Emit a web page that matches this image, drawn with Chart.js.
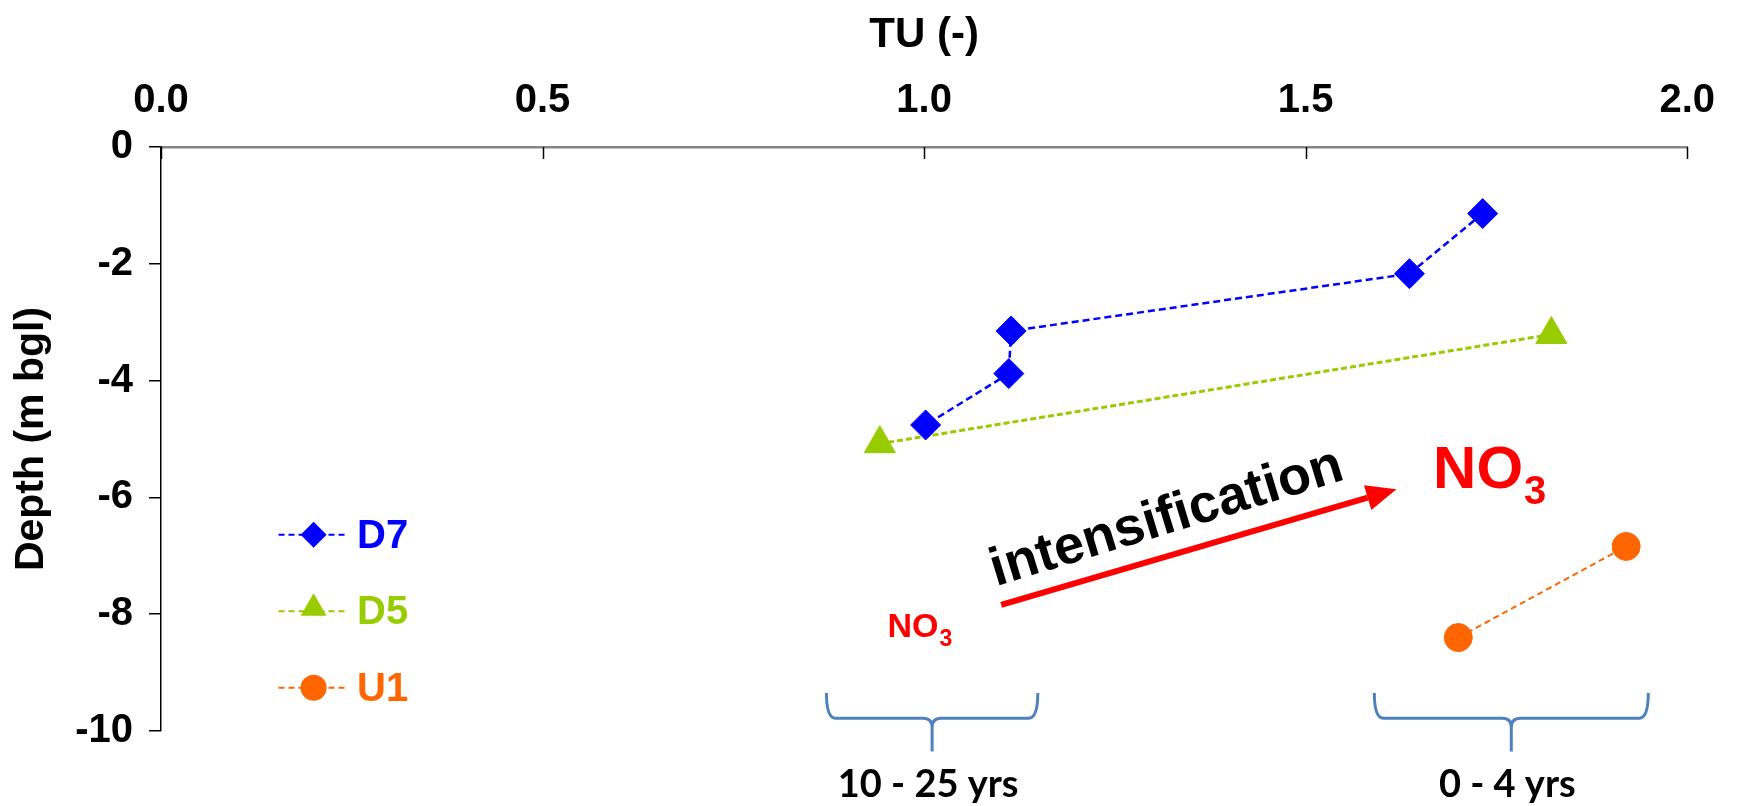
<!DOCTYPE html>
<html>
<head>
<meta charset="utf-8">
<title>TU vs depth</title>
<script src="https://cdn.jsdelivr.net/npm/chart.js@4.4.1/dist/chart.umd.min.js"></script>
<style>
  html, body { margin: 0; padding: 0; background: #fff; }
  #wrap { position: relative; width: 1737px; height: 806px; }
</style>
</head>
<body>
<div id="wrap"><canvas id="chart"></canvas></div>
<script>
// tritium units against sampling depth for three wells
const seriesNames = ['D7', 'D5', 'U1'];
const d7TU = [1.732, 1.636, 1.114, 1.111, 1.002];
const d7Depth = [-1.14, -2.17, -3.15, -3.88, -4.76];
const d5TU = [1.822, 0.942];
const d5Depth = [-3.21, -5.08];
const u1TU = [1.700, 1.920];
const u1Depth = [-8.40, -6.84];

const tuTicks = [0, 0.5, 1.0, 1.5, 2.0];
const depthTicks = [0, -2, -4, -6, -8, -10];

// groundwater age brackets along the TU axis
const ageFrom = [0.872, 1.590];
const ageTo = [1.149, 1.949];
const ageLabels = ['10 - 25 yrs', '0 - 4 yrs'];

const FONT = "'Liberation Sans', Arial, Helvetica, sans-serif";
const colors = ['#0000FF', '#99CC00', '#FF6600'];
const styles = ['rectRot', 'triangle', 'circle'];
const radii = [15, 18, 14];

const toPoints = (xs, ys) => xs.map((v, i) => ({ x: v, y: ys[i] }));
const allData = [toPoints(d7TU, d7Depth), toPoints(d5TU, d5Depth), toPoints(u1TU, u1Depth)];
const dashes = [[7, 4], [6, 3], [6, 4]];
const widths = [2.5, 3, 2];

const datasets = seriesNames.map((name, i) => ({
  label: name,
  data: allData[i],
  showLine: true,
  borderColor: colors[i],
  backgroundColor: colors[i],
  borderWidth: widths[i],
  borderDash: dashes[i],
  pointStyle: styles[i],
  pointRadius: radii[i],
  pointHoverRadius: radii[i],
  pointBorderWidth: 1,
  pointBorderColor: colors[i],
  pointBackgroundColor: colors[i],
  clip: false,
}));

function marker(ctx, style, r, x, y, color) {
  ctx.save();
  ctx.fillStyle = color;
  ctx.beginPath();
  if (style === 'rectRot') {
    ctx.moveTo(x - r, y); ctx.lineTo(x, y - r); ctx.lineTo(x + r, y); ctx.lineTo(x, y + r);
  } else if (style === 'triangle') {
    ctx.moveTo(x, y - r);
    ctx.lineTo(x + r * Math.sin(2 * Math.PI / 3), y + r / 2);
    ctx.lineTo(x - r * Math.sin(2 * Math.PI / 3), y + r / 2);
  } else {
    ctx.arc(x, y, r, 0, Math.PI * 2);
  }
  ctx.closePath();
  ctx.fill();
  ctx.restore();
}

// inward tick marks on the top axis
const topTicks = {
  id: 'topTicks',
  afterDraw(chart) {
    const { ctx, scales: { x }, chartArea } = chart;
    ctx.save();
    ctx.strokeStyle = '#000';
    ctx.lineWidth = 1.5;
    tuTicks.forEach(v => {
      const px = Math.round(x.getPixelForValue(v)) + 0.5;
      ctx.beginPath();
      ctx.moveTo(px, chartArea.top);
      ctx.lineTo(px, chartArea.top + 12);
      ctx.stroke();
    });
    ctx.restore();
  }
};

// legend sitting inside the plot on the left
const sideLegend = {
  id: 'sideLegend',
  afterDraw(chart) {
    const { ctx, scales: { x, y } } = chart;
    const rows = [-6.64, -7.95, -9.26];
    ctx.save();
    seriesNames.forEach((name, i) => {
      const py = y.getPixelForValue(rows[i]);
      const x0 = x.getPixelForValue(0.154), x1 = x.getPixelForValue(0.245);
      const xm = x.getPixelForValue(0.200);
      ctx.strokeStyle = colors[i];
      ctx.lineWidth = 2;
      ctx.setLineDash([6, 4]);
      ctx.beginPath();
      ctx.moveTo(x0, py);
      ctx.lineTo(x1, py);
      ctx.stroke();
      ctx.setLineDash([]);
      marker(ctx, styles[i], [13, 15, 13][i], xm, i === 1 ? py - 3 : py, colors[i]);
      ctx.fillStyle = colors[i];
      ctx.font = 'bold 40px ' + FONT;
      ctx.textAlign = 'left';
      ctx.textBaseline = 'middle';
      ctx.fillText(name, x.getPixelForValue(0.257), py + 2);
    });
    ctx.restore();
  }
};

function no3(ctx, px, py, size, subSize, drop) {
  ctx.font = 'bold ' + size + 'px ' + FONT;
  ctx.textAlign = 'left';
  ctx.textBaseline = 'alphabetic';
  ctx.fillText('NO', px, py);
  const w = ctx.measureText('NO').width;
  ctx.font = 'bold ' + subSize + 'px ' + FONT;
  ctx.fillText('3', px + w + 1, py + drop);
}

function brace(ctx, x1, x2, yTop, yMid, yTip) {
  const xc = (x1 + x2) / 2, r = 9;
  ctx.beginPath();
  ctx.moveTo(x1, yTop);
  ctx.quadraticCurveTo(x1, yMid, x1 + r, yMid);
  ctx.lineTo(xc - r, yMid);
  ctx.quadraticCurveTo(xc, yMid, xc, yMid + r);
  ctx.lineTo(xc, yTip);
  ctx.moveTo(x2, yTop);
  ctx.quadraticCurveTo(x2, yMid, x2 - r, yMid);
  ctx.lineTo(xc + r, yMid);
  ctx.quadraticCurveTo(xc, yMid, xc, yMid + r);
  ctx.stroke();
}

// nitrate arrow, text and age brackets
const notes = {
  id: 'notes',
  afterDraw(chart) {
    const { ctx, scales: { x, y } } = chart;
    ctx.save();

    // arrow
    const ax0 = x.getPixelForValue(1.101), ay0 = y.getPixelForValue(-7.84);
    const ax1 = x.getPixelForValue(1.619), ay1 = y.getPixelForValue(-5.86);
    const ang = Math.atan2(ay1 - ay0, ax1 - ax0);
    const head = 30, half = 13;
    const bx = ax1 - head * Math.cos(ang), by = ay1 - head * Math.sin(ang);
    ctx.strokeStyle = '#FF0000';
    ctx.fillStyle = '#FF0000';
    ctx.lineWidth = 6;
    ctx.beginPath();
    ctx.moveTo(ax0, ay0);
    ctx.lineTo(bx, by);
    ctx.stroke();
    ctx.beginPath();
    ctx.moveTo(ax1, ay1);
    ctx.lineTo(bx + half * Math.sin(ang), by - half * Math.cos(ang));
    ctx.lineTo(bx - half * Math.sin(ang), by + half * Math.cos(ang));
    ctx.closePath();
    ctx.fill();

    // rotated label above the arrow
    ctx.save();
    ctx.translate(x.getPixelForValue(1.318), y.getPixelForValue(-6.36));
    ctx.rotate(-17 * Math.PI / 180);
    ctx.fillStyle = '#000';
    ctx.font = 'bold 54px ' + FONT;
    ctx.textAlign = 'center';
    ctx.textBaseline = 'middle';
    ctx.fillText('intensification', 0, 0);
    ctx.restore();

    ctx.fillStyle = '#FF0000';
    no3(ctx, x.getPixelForValue(1.667), y.getPixelForValue(-5.84), 60, 40, 16);
    no3(ctx, x.getPixelForValue(0.952), y.getPixelForValue(-8.39), 34, 23, 9);

    // age brackets
    ctx.strokeStyle = '#4F81BD';
    ctx.lineWidth = 3;
    ageFrom.forEach((a, i) => {
      const x1 = x.getPixelForValue(a), x2 = x.getPixelForValue(ageTo[i]);
      brace(ctx, x1, x2, y.getPixelForValue(-9.35), y.getPixelForValue(-9.78), y.getPixelForValue(-10.35));
      ctx.fillStyle = '#000';
      ctx.font = "bold 38px Lato, 'Liberation Sans', Arial, sans-serif";
      ctx.textAlign = 'center';
      ctx.textBaseline = 'alphabetic';
      ctx.fillText(ageLabels[i], (x1 + x2) / 2 - 4, y.getPixelForValue(-11.13));
    });
    ctx.restore();
  }
};

new Chart(document.getElementById('chart'), {
  type: 'scatter',
  data: { datasets },
  options: {
    responsive: true,
    maintainAspectRatio: false,
    devicePixelRatio: 1,
    animation: false,
    layout: { padding: { top: 0, left: 0, right: 48, bottom: 75 } },
    plugins: {
      legend: { display: false },
      tooltip: { enabled: false },
    },
    scales: {
      x: {
        type: 'linear',
        position: 'top',
        min: 0,
        max: 2,
        afterFit: s => { s.height = 147; },
        afterBuildTicks: s => { s.ticks = tuTicks.map(v => ({ value: v })); },
        ticks: {
          color: '#000',
          padding: 22,
          font: { family: FONT, size: 40, weight: 'bold' },
          callback: v => Number(v).toFixed(1),
        },
        grid: { display: true, drawOnChartArea: false, drawTicks: false },
        border: { display: true, color: '#858585', width: 2.5 },
        title: {
          display: true,
          text: 'TU (-)',
          color: '#000',
          padding: { top: 10 },
          font: { family: FONT, size: 42, weight: 'bold' },
        },
      },
      y: {
        type: 'linear',
        position: 'left',
        min: -10,
        max: 0,
        afterFit: s => { s.width = 161; },
        afterBuildTicks: s => { s.ticks = depthTicks.map(v => ({ value: v })); },
        ticks: {
          color: '#000',
          padding: 16,
          font: { family: FONT, size: 40, weight: 'bold' },
        },
        grid: { display: true, drawOnChartArea: false, drawTicks: true, tickLength: 12, color: '#000', lineWidth: 1.5 },
        border: { display: true, color: '#000', width: 1.5 },
        title: {
          display: true,
          text: 'Depth (m bgl)',
          color: '#000',
          padding: { top: 7 },
          font: { family: FONT, size: 41, weight: 'bold' },
        },
      },
    },
  },
  plugins: [topTicks, sideLegend, notes],
});
</script>
</body>
</html>
